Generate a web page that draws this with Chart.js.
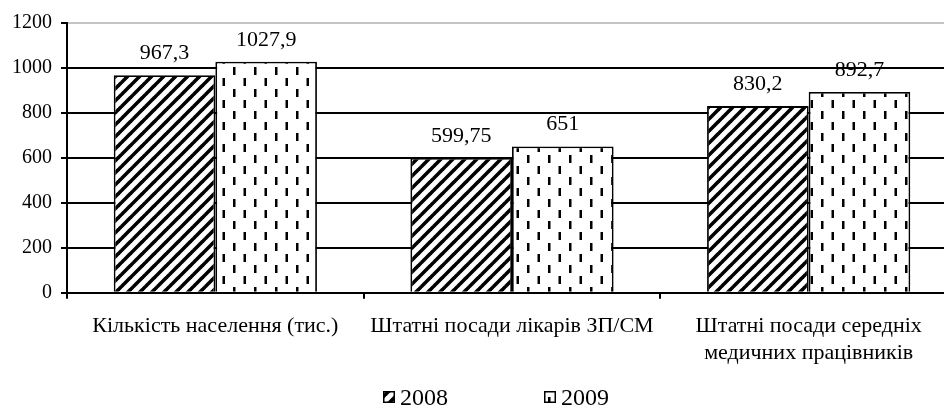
<!DOCTYPE html>
<html>
<head>
<meta charset="utf-8">
<script src="https://cdn.jsdelivr.net/npm/chart.js@4"></script>
<style>
  html, body { margin: 0; padding: 0; background: #fff; overflow: hidden; }
  #wrap { width: 944px; height: 408px; overflow: hidden; position: relative; }
  canvas { display: block; }
</style>
</head>
<body>
<div id="wrap"><canvas id="c" width="960" height="408"></canvas></div>
<script>
// Categories, series and axis ticks
const categories = [
  'Кількість населення (тис.)',
  'Штатні посади лікарів ЗП/СМ',
  ['Штатні посади середніх', 'медичних працівників']
];
const seriesNames = ['2008', '2009'];
const values2008 = [967.3, 599.75, 830.2];
const values2009 = [1027.9, 651, 892.7];
const yTicks = [0, 200, 400, 600, 800, 1000, 1200];

const SERIF = "'Liberation Serif', 'Times New Roman', serif";

// Diagonal black/white hatch ("/" stripes)
function hatchPattern() {
  const s = 12;
  const c = document.createElement('canvas');
  c.width = s; c.height = s;
  const g = c.getContext('2d');
  g.fillStyle = '#fff';
  g.fillRect(0, 0, s, s);
  g.strokeStyle = '#000';
  g.lineWidth = 3.6;
  for (const o of [-s, 0, s]) {
    g.beginPath();
    g.moveTo(o - 1, s + 1);
    g.lineTo(o + s + 1, -1);
    g.stroke();
  }
  return g.createPattern(c, 'repeat');
}

// Short vertical dashes, alternate columns offset by half a period
function dashPattern() {
  const w = 21, h = 22;
  const c = document.createElement('canvas');
  c.width = w; c.height = h;
  const g = c.getContext('2d');
  g.fillStyle = '#fff';
  g.fillRect(0, 0, w, h);
  g.fillStyle = '#000';
  g.fillRect(2, 1, 2.5, 8);
  g.fillRect(12.5, 12, 2.5, 8);
  return g.createPattern(c, 'repeat');
}

const fmt = v => String(v).replace('.', ',');

// Value labels above each bar
const valueLabels = {
  id: 'valueLabels',
  afterDatasetsDraw(chart) {
    const { ctx } = chart;
    ctx.save();
    ctx.font = `22px ${SERIF}`;
    ctx.fillStyle = '#000';
    ctx.textAlign = 'center';
    ctx.textBaseline = 'alphabetic';
    chart.data.datasets.forEach((ds, i) => {
      chart.getDatasetMeta(i).data.forEach((bar, j) => {
        ctx.fillText(fmt(ds.data[j]), bar.x, bar.y - 16);
      });
    });
    ctx.restore();
  }
};

// Legend row under the axis labels
const bottomLegend = {
  id: 'bottomLegend',
  afterDraw(chart) {
    const { ctx } = chart;
    ctx.save();
    ctx.font = `24px ${SERIF}`;
    ctx.textAlign = 'left';
    ctx.textBaseline = 'alphabetic';
    const box = 12, gap = 5, spacing = 96, baseline = 405, cx = 496;
    const items = chart.data.datasets.map(ds => ({
      text: ds.label,
      fill: ds.backgroundColor,
      w: box + gap + ctx.measureText(ds.label).width
    }));
    const total = items.reduce((a, it) => a + it.w, 0) + spacing * (items.length - 1);
    let x = cx - total / 2;
    items.forEach(it => {
      const top = baseline - 14;
      ctx.fillStyle = it.fill;
      ctx.fillRect(x, top, box, box);
      ctx.strokeStyle = '#000';
      ctx.lineWidth = 1.5;
      ctx.strokeRect(x + 0.75, top + 0.75, box - 1.5, box - 1.5);
      ctx.fillStyle = '#000';
      ctx.fillText(it.text, x + box + gap, baseline);
      x += it.w + spacing;
    });
    ctx.restore();
  }
};

new Chart(document.getElementById('c'), {
  type: 'bar',
  data: {
    labels: categories,
    datasets: [
      {
        label: seriesNames[0],
        data: values2008,
        backgroundColor: hatchPattern(),
        borderColor: '#000',
        borderWidth: 1.8
      },
      {
        label: seriesNames[1],
        data: values2009,
        backgroundColor: dashPattern(),
        borderColor: '#000',
        borderWidth: 1.8
      }
    ]
  },
  options: {
    responsive: false,
    animation: false,
    devicePixelRatio: 1,
    layout: { padding: { top: 23, right: 3, bottom: 15.3, left: 0 } },
    datasets: {
      bar: { categoryPercentage: 0.685, barPercentage: 1.0 }
    },
    plugins: {
      legend: { display: false },
      tooltip: { enabled: false }
    },
    scales: {
      x: {
        afterFit(scale) { scale.height = 100; },
        grid: {
          offset: true,
          drawOnChartArea: false,
          drawTicks: true,
          tickLength: 6,
          color: '#000',
          lineWidth: 2
        },
        border: { color: '#000', width: 2 },
        ticks: {
          color: '#000',
          font: { family: SERIF, size: 22, lineHeight: 1.22 },
          padding: 14,
          maxRotation: 0,
          autoSkip: false
        }
      },
      y: {
        min: 0,
        max: 1200,
        afterFit(scale) { scale.width = 67; },
        afterBuildTicks(scale) { scale.ticks = yTicks.map(v => ({ value: v })); },
        grid: {
          color: ctx => (ctx.tick && ctx.tick.value === 1200 ? '#c4c4c4' : '#000'),
          tickColor: '#000',
          lineWidth: 2,
          drawTicks: true,
          tickLength: 6
        },
        border: { color: '#000', width: 2 },
        ticks: {
          color: '#000',
          font: { family: SERIF, size: 20 },
          padding: 9,
          callback: v => String(v)
        }
      }
    }
  },
  plugins: [valueLabels, bottomLegend]
});
</script>
</body>
</html>
